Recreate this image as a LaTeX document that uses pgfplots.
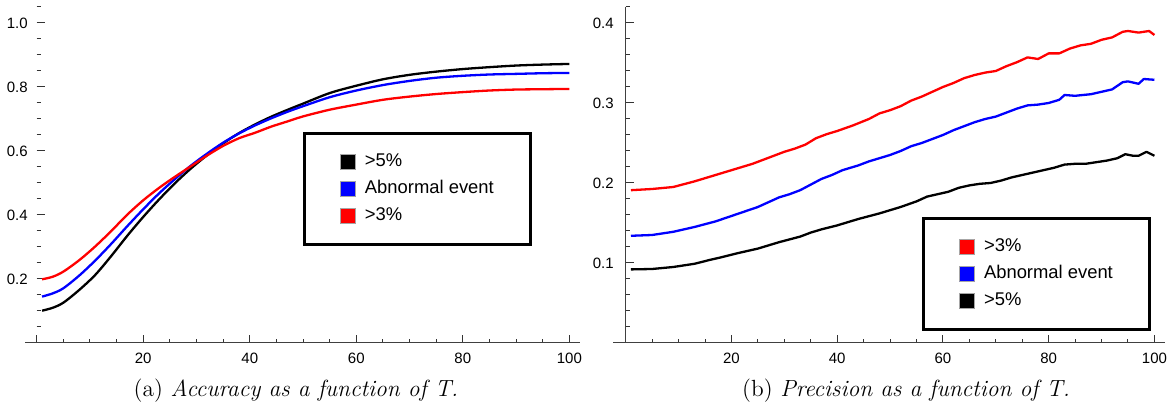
\documentclass[border=0pt]{standalone}
\usepackage{fontspec}
\usepackage{pgfplots}
\pgfplotsset{compat=1.18}
\newfontfamily\arial{Liberation Sans}

\pgfplotsset{
  mmastyle/.style={
    scale only axis,
    axis lines=middle,
    axis line style={-, black!75, line width=0.5pt},
    hide obscured x ticks=false,
    hide obscured y ticks=false,
    tick align=inside,
    major tick length=4pt, minor tick length=2pt,
    every tick/.style={black!80, line width=0.5pt},
    ticklabel style={font=\arial\fontsize{7.5}{9}\selectfont, text=black},
    /pgf/number format/assume math mode=true,
    yticklabel style={/pgf/number format/fixed, /pgf/number format/fixed zerofill, /pgf/number format/precision=1},
    xticklabel style={yshift=-1.5pt},
    legend cell align=left,
    legend style={draw=black, line width=1.5pt, inner xsep=17.5pt, inner ysep=9pt,
      font=\arial\fontsize{9.2}{10}\selectfont, row sep=3pt, column sep=3.5pt,
      nodes={line width=0.4pt, inner sep=1pt, text height=6.5pt, text depth=2pt}},
    every axis plot/.append style={line width=1.15pt, line join=round},
  },
  sq/.style={legend image code/.code={\draw[draw=black!35, fill=#1, line width=0.4pt] (0pt,-3.9pt) rectangle (7.8pt,3.9pt);}},
}

\begin{document}
\begin{tikzpicture}
\path[use as bounding box] (0,0) rectangle (587pt,202.5pt);

% ---------- (a) Accuracy ----------
\begin{axis}[mmastyle,
  at={(12.5pt,31pt)}, anchor=south west,
  width=277.5pt, height=168pt,
  xmin=-2.2, xmax=102, ymin=0, ymax=1.05,
  y axis line style={draw=none},
  xtick={0,20,40,60,80,100}, xticklabels={,20,40,60,80,100},
  minor xtick={5,10,15,25,30,35,45,50,55,65,70,75,85,90,95},
  ytick={0.2,0.4,0.6,0.8,1.0},
  minor ytick={0.05,0.1,0.15,0.25,0.3,0.35,0.45,0.5,0.55,0.65,0.7,0.75,0.85,0.9,0.95,1.05},
  yticklabel style={xshift=-1pt},
  legend style={at={(0.501,0.628)}, anchor=north west},
]
\addplot[black, smooth, sq=black] coordinates {
(1,0.101) (3,0.110) (5,0.126) (8,0.166) (11,0.213) (14,0.272) (17,0.335) (20,0.394)
(23,0.449) (26,0.500) (29,0.546) (32,0.587) (35,0.624) (38,0.656) (41,0.683) (44,0.707)
(47,0.728) (50,0.748) (55,0.781) (60,0.804) (65,0.824) (70,0.838) (75,0.848) (80,0.856)
(85,0.862) (90,0.867) (95,0.870) (100,0.872)};
\addlegendentry{>5\%}
\addplot[blue, smooth, sq=blue] coordinates {
(1,0.145) (3,0.155) (5,0.171) (8,0.211) (11,0.258) (14,0.310) (17,0.365) (20,0.418)
(23,0.468) (26,0.513) (29,0.555) (32,0.592) (35,0.626) (38,0.655) (41,0.680) (44,0.702)
(47,0.722) (50,0.740) (55,0.768) (60,0.789) (65,0.806) (70,0.819) (75,0.829) (80,0.835)
(85,0.839) (90,0.841) (95,0.843) (100,0.844)};
\addlegendentry{Abnormal event}
\addplot[red, smooth, sq=red] coordinates {
(1,0.199) (3,0.207) (5,0.223) (8,0.259) (11,0.302) (14,0.350) (17,0.401) (20,0.446)
(23,0.485) (26,0.520) (29,0.553) (32,0.586) (35,0.616) (38,0.640) (41,0.657) (44,0.676)
(47,0.692) (50,0.708) (55,0.729) (60,0.745) (65,0.760) (70,0.770) (75,0.778) (80,0.784)
(85,0.789) (90,0.792) (95,0.793) (100,0.794)};
\addlegendentry{>3\%}
\end{axis}

% ---------- (b) Precision ----------
\begin{axis}[mmastyle,
  at={(306.5pt,31pt)}, anchor=south west,
  width=276pt, height=168pt,
  xmin=-2.4, xmax=102, ymin=0, ymax=0.42,
  xtick={20,40,60,80,100},
  minor xtick={5,10,15,25,30,35,45,50,55,65,70,75,85,90,95},
  ytick={0.1,0.2,0.3,0.4},
  minor ytick={0.02,0.04,0.06,0.08,0.12,0.14,0.16,0.18,0.22,0.24,0.26,0.28,0.32,0.34,0.36,0.38,0.42},
  yticklabel style={xshift=-2.5pt},
  legend style={at={(0.56,0.375)}, anchor=north west},
]
\addplot[red, sq=red] coordinates {
(1,0.191) (5,0.1925) (9,0.195) (13,0.202) (16,0.208) (20,0.216) (22,0.220) (24,0.224)
(26,0.229) (28,0.234) (30,0.239) (32,0.243) (34,0.248) (36,0.256) (38,0.261) (40,0.265)
(43,0.272) (46,0.280) (48,0.287) (50,0.291) (52,0.296) (54,0.303) (56,0.308) (58,0.314)
(60,0.320) (62,0.325) (64,0.331) (66,0.335) (68,0.338) (70,0.340) (72,0.346) (74,0.351)
(76,0.357) (78,0.355) (80,0.362) (82,0.362) (84,0.368) (86,0.372) (88,0.374) (90,0.379)
(92,0.382) (94,0.389) (95,0.390) (97,0.388) (99,0.390) (100,0.385)};
\addlegendentry{>3\%}
\addplot[blue, sq=blue] coordinates {
(1,0.134) (5,0.135) (9,0.139) (13,0.145) (17,0.152) (21,0.161) (25,0.170) (27,0.176)
(29,0.182) (31,0.186) (33,0.191) (35,0.198) (37,0.205) (39,0.210) (41,0.216) (44,0.222)
(46,0.227) (48,0.231) (50,0.235) (52,0.240) (54,0.246) (56,0.250) (58,0.255) (60,0.260)
(62,0.266) (64,0.271) (66,0.276) (68,0.280) (70,0.283) (72,0.288) (74,0.293) (76,0.297)
(78,0.298) (80,0.300) (82,0.304) (83,0.310) (85,0.309) (88,0.311) (90,0.314) (92,0.317)
(94,0.326) (95,0.327) (97,0.324) (98,0.330) (100,0.329)};
\addlegendentry{Abnormal event}
\addplot[black, sq=black] coordinates {
(1,0.092) (5,0.0925) (9,0.095) (13,0.099) (16,0.104) (18,0.107) (21,0.112) (25,0.118)
(29,0.126) (33,0.133) (35,0.138) (37,0.142) (40,0.147) (44,0.155) (48,0.162) (52,0.170)
(55,0.177) (57,0.183) (59,0.186) (61,0.189) (63,0.194) (65,0.197) (67,0.199) (69,0.200)
(71,0.203) (73,0.207) (75,0.210) (77,0.213) (79,0.216) (81,0.219) (83,0.223) (85,0.224)
(87,0.224) (89,0.226) (91,0.228) (93,0.231) (94.5,0.236) (96,0.234) (97,0.234) (98.5,0.239)
(100,0.234)};
\addlegendentry{>5\%}
\end{axis}

\node[anchor=base, font=\fontsize{11.7}{14}\selectfont] at (148pt,4pt) {(a) \textit{Accuracy as a function of T.}};
\node[anchor=base, font=\fontsize{11.7}{14}\selectfont] at (453pt,4pt) {(b) \textit{Precision as a function of T.}};
\end{tikzpicture}
\end{document}
